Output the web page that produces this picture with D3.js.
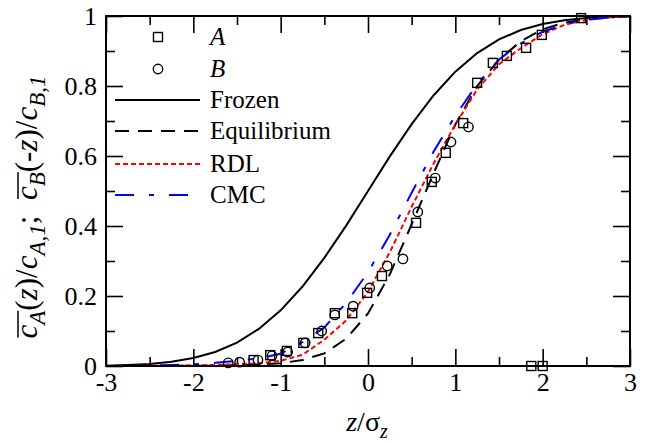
<!DOCTYPE html>
<html>
<head>
<meta charset="utf-8">
<script src="https://cdn.jsdelivr.net/npm/d3@7/dist/d3.min.js"></script>
<style>
  body { margin: 0; background: #fff; }
  svg { display: block; }
  svg text { font-family: "Liberation Serif", "Times New Roman", Tinos, "DejaVu Serif", serif; }
</style>
</head>
<body>
<svg id="chart" width="659" height="443"></svg>
<script>
// ---- data ----
const zGrid = [-3, -2.75, -2.5, -2.25, -2, -1.75, -1.5, -1.25, -1, -0.75, -0.5, -0.25,
               0, 0.25, 0.5, 0.75, 1, 1.25, 1.5, 1.75, 2, 2.25, 2.5, 2.75, 3];

const frozen      = [0.001, 0.003, 0.006, 0.012, 0.023, 0.040, 0.067, 0.106, 0.159, 0.227, 0.309, 0.401,
                     0.500, 0.599, 0.691, 0.773, 0.841, 0.894, 0.933, 0.960, 0.977, 0.988, 0.994, 0.997, 0.999];
const equilibrium = [0, 0, 0, 0, 0.0005, 0.001, 0.002, 0.004, 0.008, 0.017, 0.036, 0.078,
                     0.150, 0.262, 0.405, 0.550, 0.690, 0.800, 0.875, 0.928, 0.962, 0.981, 0.991, 0.996, 0.999];
const rdl         = [0, 0, 0.001, 0.001, 0.002, 0.003, 0.005, 0.008, 0.015, 0.032, 0.075, 0.130,
                     0.212, 0.325, 0.455, 0.578, 0.690, 0.790, 0.862, 0.908, 0.948, 0.975, 0.989, 0.996, 0.999];
const cmc         = [0, 0.001, 0.002, 0.003, 0.005, 0.009, 0.015, 0.022, 0.035, 0.068, 0.110, 0.180,
                     0.268, 0.375, 0.495, 0.612, 0.715, 0.805, 0.876, 0.922, 0.955, 0.976, 0.989, 0.996, 1.0];

// measured points, species A (squares)
const zA = [-1.31, -1.12, -0.93, -0.74, -0.57, -0.38, -0.18, -0.01, 0.16, 0.55, 0.73, 0.89,
            1.09, 1.25, 1.43, 1.59, 1.81, 1.99, 2.44, 1.87, 2.0];
const cA = [0.017, 0.031, 0.043, 0.066, 0.094, 0.151, 0.151, 0.209, 0.257, 0.409, 0.526, 0.609,
            0.694, 0.809, 0.866, 0.886, 0.909, 0.946, 0.994, 0.0, 0.0];
// measured points, species B (circles)
const zB = [-1.60, -1.47, -1.26, -1.10, -0.92, -0.72, -0.53, -0.38, -0.17, 0.02, 0.22, 0.40,
            0.57, 0.77, 0.95, 1.15];
const cB = [0.009, 0.011, 0.017, 0.029, 0.040, 0.066, 0.100, 0.146, 0.171, 0.223, 0.286, 0.306,
            0.440, 0.537, 0.640, 0.683];

const xTicks = [-3, -2, -1, 0, 1, 2, 3];
const xMinor = [-2.5, -1.5, -0.5, 0.5, 1.5, 2.5];
const yTicks = [0, 0.2, 0.4, 0.6, 0.8, 1];
const yMinor = [0.1, 0.3, 0.5, 0.7, 0.9];

// ---- layout ----
const W = 659, H = 443;
const margin = {top: 16, right: 29, bottom: 77, left: 106};
const svg = d3.select("#chart");

const x = d3.scaleLinear().domain([-3, 3]).range([margin.left, W - margin.right]);
const y = d3.scaleLinear().domain([0, 1]).range([H - margin.bottom, margin.top]);

function tidy(g) {
  g.select(".domain").remove();
  g.selectAll("line").attr("stroke", "#000").attr("stroke-width", 1.6);
  g.selectAll("text").attr("fill", "#000").attr("font-size", 26).attr("font-family", null);
}

// bottom
svg.append("g").attr("transform", `translate(0,${y(0)})`)
  .call(d3.axisBottom(x).tickValues(xTicks).tickSize(-17).tickPadding(7).tickFormat(d => String(d)))
  .call(tidy);
svg.append("g").attr("transform", `translate(0,${y(0)})`)
  .call(d3.axisBottom(x).tickValues(xMinor).tickSize(-9).tickFormat(""))
  .call(tidy);
// top
svg.append("g").attr("transform", `translate(0,${y(1)})`)
  .call(d3.axisTop(x).tickValues(xTicks).tickSize(-17).tickFormat(""))
  .call(tidy);
svg.append("g").attr("transform", `translate(0,${y(1)})`)
  .call(d3.axisTop(x).tickValues(xMinor).tickSize(-9).tickFormat(""))
  .call(tidy);
// left
svg.append("g").attr("transform", `translate(${x(-3)},0)`)
  .call(d3.axisLeft(y).tickValues(yTicks).tickSize(-17).tickPadding(9).tickFormat(d => String(d)))
  .call(tidy);
svg.append("g").attr("transform", `translate(${x(-3)},0)`)
  .call(d3.axisLeft(y).tickValues(yMinor).tickSize(-9).tickFormat(""))
  .call(tidy);
// right
svg.append("g").attr("transform", `translate(${x(3)},0)`)
  .call(d3.axisRight(y).tickValues(yTicks).tickSize(-17).tickFormat(""))
  .call(tidy);
svg.append("g").attr("transform", `translate(${x(3)},0)`)
  .call(d3.axisRight(y).tickValues(yMinor).tickSize(-9).tickFormat(""))
  .call(tidy);

// ---- curves ----
const line = d3.line().x(d => x(d[0])).y(d => y(d[1]));
const curves = [
  {vals: frozen, color: "#000", dash: null},
  {vals: equilibrium, color: "#000", dash: "14,9"},
  {vals: rdl, color: "#f00", dash: "5,3"},
  {vals: cmc, color: "#00f", dash: "19,15,5,15"}
];
curves.forEach(c => {
  svg.append("path")
    .datum(d3.zip(zGrid, c.vals))
    .attr("d", line)
    .attr("fill", "none")
    .attr("stroke", c.color)
    .attr("stroke-width", 2)
    .attr("stroke-dasharray", c.dash);
});

// ---- points ----
svg.append("g").selectAll("rect")
  .data(d3.zip(zA, cA))
  .join("rect")
  .attr("x", d => x(d[0]) - 4.5).attr("y", d => y(d[1]) - 4.5)
  .attr("width", 9).attr("height", 9)
  .attr("fill", "none").attr("stroke", "#000").attr("stroke-width", 1.4);

svg.append("g").selectAll("circle")
  .data(d3.zip(zB, cB))
  .join("circle")
  .attr("cx", d => x(d[0])).attr("cy", d => y(d[1])).attr("r", 4.7)
  .attr("fill", "none").attr("stroke", "#000").attr("stroke-width", 1.4);

// frame
svg.append("rect")
  .attr("x", x(-3)).attr("y", y(1))
  .attr("width", x(3) - x(-3)).attr("height", y(0) - y(1))
  .attr("fill", "none").attr("stroke", "#000").attr("stroke-width", 2);

// ---- legend ----
const lg = svg.append("g").attr("font-size", 25);
const lx0 = 115, lx1 = 200, ltx = 210;
lg.append("rect").attr("x", 158 - 4.5).attr("y", 37 - 4.5).attr("width", 9).attr("height", 9)
  .attr("fill", "none").attr("stroke", "#000").attr("stroke-width", 1.4);
lg.append("text").attr("x", ltx).attr("y", 45).attr("font-style", "italic").text("A");
lg.append("circle").attr("cx", 158).attr("cy", 69).attr("r", 4.7)
  .attr("fill", "none").attr("stroke", "#000").attr("stroke-width", 1.4);
lg.append("text").attr("x", ltx).attr("y", 77).attr("font-style", "italic").text("B");
const legLines = [
  {label: "Frozen", y: 100, c: curves[0]},
  {label: "Equilibrium", y: 131, c: curves[1]},
  {label: "RDL", y: 164, c: curves[2]},
  {label: "CMC", y: 195, c: curves[3]}
];
legLines.forEach(l => {
  lg.append("line").attr("x1", lx0).attr("x2", lx1).attr("y1", l.y).attr("y2", l.y)
    .attr("stroke", l.c.color).attr("stroke-width", 2).attr("stroke-dasharray", l.c.dash);
  lg.append("text").attr("x", ltx).attr("y", l.y + 8).text(l.label);
});

// ---- axis titles built from pieces ----
function pieces(g, parts, big, small) {
  let cx = 0;
  const spans = [];
  parts.forEach(p => {
    const size = p.sub ? small : big;
    const t = g.append("text")
      .attr("x", cx).attr("y", p.sub ? 0.25 * big : 0)
      .attr("font-size", size)
      .attr("font-style", p.it ? "italic" : "normal")
      .text(p.t);
    const w = t.node().getComputedTextLength();
    spans.push({x0: cx, x1: cx + w, p});
    cx += w;
  });
  return {width: cx, spans};
}

// y title
const yt = svg.append("g");
const ytInner = yt.append("g");
const yParts = [
  {t: "c", it: true, ol: 1}, {t: "A", it: true, sub: true, ol: 1},
  {t: "(", it: false}, {t: "z", it: true}, {t: ")/", it: false},
  {t: "c", it: true}, {t: "A,1", it: true, sub: true},
  {t: ";\u00a0\u00a0", it: false},
  {t: "c", it: true, ol: 2}, {t: "B", it: true, sub: true, ol: 2},
  {t: "(-", it: false}, {t: "z", it: true}, {t: ")/", it: false},
  {t: "c", it: true}, {t: "B,1", it: true, sub: true}
];
const ym = pieces(ytInner, yParts, 31, 23);
[1, 2].forEach(k => {
  const s = ym.spans.filter(d => d.p.ol === k);
  ytInner.append("line")
    .attr("x1", s[0].x0 + 1).attr("x2", s[s.length - 1].x1)
    .attr("y1", -19).attr("y2", -19)
    .attr("stroke", "#000").attr("stroke-width", 1.5);
});
yt.attr("transform", `translate(37,${207 + ym.width / 2}) rotate(-90)`);

// x title
const xt = svg.append("g");
const xParts = [
  {t: "z", it: true}, {t: "/", it: false}, {t: "\u03c3", it: false}, {t: "z", it: true, sub: true}
];
const xm = pieces(xt, xParts, 28, 20);
xt.attr("transform", `translate(${367 - xm.width / 2},431)`);
</script>
</body>
</html>
